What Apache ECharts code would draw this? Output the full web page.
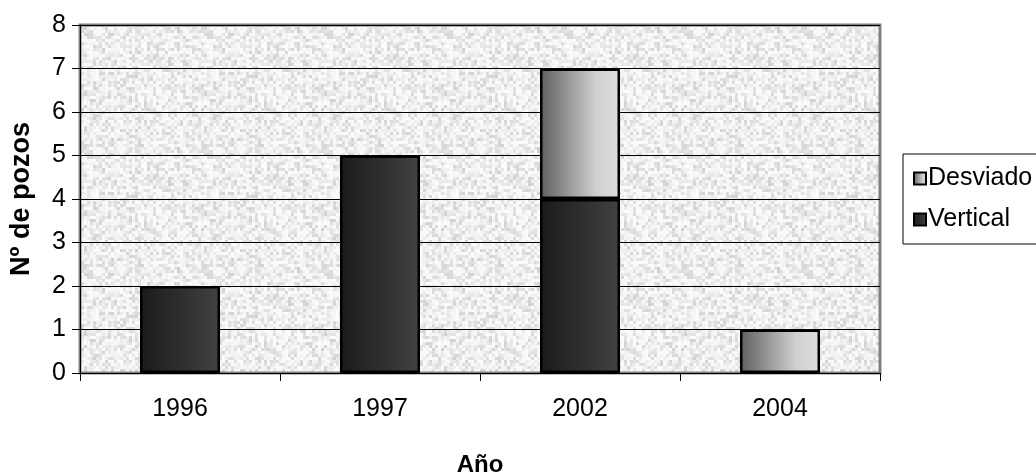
<!DOCTYPE html>
<html>
<head>
<meta charset="utf-8">
<script src="https://cdn.jsdelivr.net/npm/echarts@6/dist/echarts.min.js"></script>
<style>
  html, body { margin: 0; padding: 0; background: #ffffff; }
  #chart { width: 1036px; height: 474px; }
</style>
</head>
<body>
<div id="chart"></div>
<script>
// Wells drilled per year, split by well type
const years = ['1996', '1997', '2002', '2004'];
const vertical = [2, 5, 4, 0];
const desviado = [0, 0, 3, 1];
const yTicks = [0, 1, 2, 3, 4, 5, 6, 7, 8];

// Speckled grey fill for the plot area (deterministic hash noise in small blocks)
function speckle(cells, cell) {
  const size = cells * cell;
  const c = document.createElement('canvas');
  c.width = size; c.height = size;
  const ctx = c.getContext('2d');
  for (let y = 0; y < cells; y++) {
    for (let x = 0; x < cells; x++) {
      let h = (x * 374761393 + y * 668265263) | 0;
      h = Math.imul(h ^ (h >>> 13), 1274126177);
      h = h ^ (h >>> 16);
      const t = (h & 255) / 255;
      const v = Math.round(251 - t * t * 42);
      ctx.fillStyle = 'rgb(' + v + ',' + v + ',' + v + ')';
      ctx.fillRect(x * cell, y * cell, cell, cell);
    }
  }
  return c;
}

const darkFill = new echarts.graphic.LinearGradient(0, 0, 1, 0, [
  { offset: 0, color: '#1a1a1a' },
  { offset: 1, color: '#424242' }
]);
const lightFill = new echarts.graphic.LinearGradient(0, 0, 1, 0, [
  { offset: 0, color: '#5e5e5e' },
  { offset: 0.7, color: '#d0d0d0' },
  { offset: 1, color: '#dedede' }
]);

const font = 'Liberation Sans, Arial, sans-serif';
const chart = echarts.init(document.getElementById('chart'), null, { renderer: 'canvas' });

chart.setOption({
  animation: false,
  textStyle: { fontFamily: font },
  grid: {
    left: 80, right: 156, top: 25, bottom: 101,
    containLabel: false,
    outerBoundsMode: 'none',
    show: true,
    backgroundColor: { image: speckle(40, 3), repeat: 'repeat' },
    borderColor: '#808080',
    borderWidth: 3
  },
  legend: {
    orient: 'vertical',
    left: 903, top: 154,
    padding: [12, 40, 12, 10],
    itemGap: 16,
    itemWidth: 12, itemHeight: 12,
    icon: 'rect',
    borderColor: '#000000', borderWidth: 1,
    backgroundColor: '#ffffff',
    textStyle: { fontSize: 25, color: '#000000', fontFamily: font, padding: [0, 0, 0, -3] },
    data: ['Desviado', 'Vertical']
  },
  xAxis: {
    type: 'category',
    data: years,
    name: 'Año',
    nameLocation: 'middle',
    nameGap: 80,
    nameTextStyle: { fontSize: 24, fontWeight: 'bold', color: '#000000' },
    axisLine: { lineStyle: { color: '#000000', width: 1 } },
    axisTick: { show: true, length: 8, lineStyle: { color: '#000000' } },
    axisLabel: { fontSize: 25, color: '#000000', margin: 24 }
  },
  yAxis: {
    type: 'value',
    min: yTicks[0], max: yTicks[yTicks.length - 1], interval: 1,
    name: 'Nº de pozos',
    nameLocation: 'middle',
    nameGap: 45,
    nameTextStyle: { fontSize: 27, fontWeight: 'bold', color: '#000000' },
    axisLine: { show: true, lineStyle: { color: '#000000', width: 1 } },
    axisTick: { show: true, length: 8, lineStyle: { color: '#000000' } },
    axisLabel: { fontSize: 25, color: '#000000', margin: 14 },
    splitLine: { show: true, lineStyle: { color: '#000000', width: 1 } }
  },
  series: [
    {
      name: 'Vertical',
      type: 'bar',
      stack: 'pozos',
      barWidth: '40%',
      data: vertical.map(v => v || null),
      itemStyle: { color: darkFill, borderColor: '#000000', borderWidth: 2.5 }
    },
    {
      name: 'Desviado',
      type: 'bar',
      stack: 'pozos',
      barWidth: '40%',
      data: desviado.map(v => v || null),
      itemStyle: { color: lightFill, borderColor: '#000000', borderWidth: 2.5 }
    }
  ]
});
</script>
</body>
</html>
